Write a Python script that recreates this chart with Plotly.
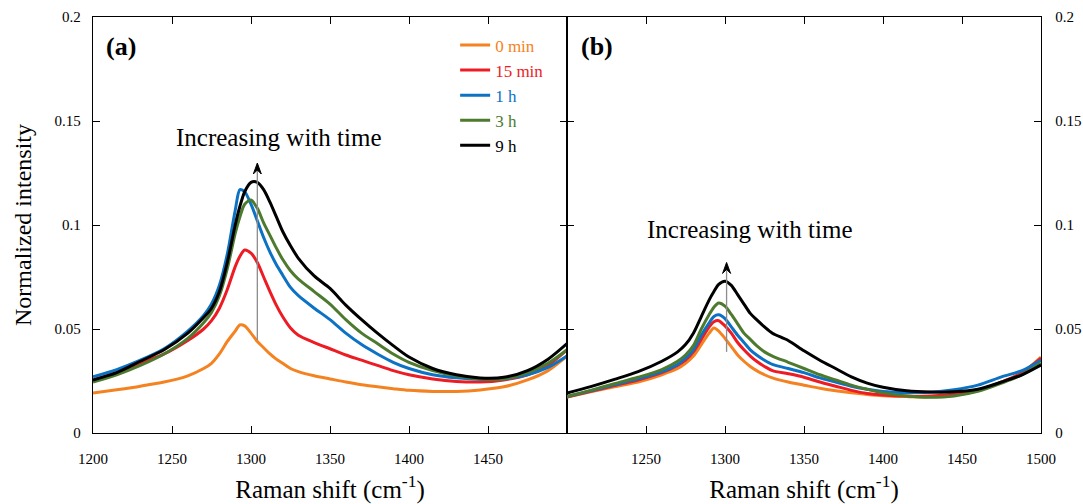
import plotly.graph_objects as go

# ---------------- data ----------------
wavenumber = [1200, 1215, 1230, 1245, 1260, 1270, 1275, 1280, 1285, 1290, 1293, 1296, 1300, 1304,
              1308, 1312, 1316, 1320, 1325, 1330, 1340, 1350, 1360, 1370, 1380, 1390, 1400, 1415,
              1430, 1445, 1460, 1475, 1488, 1500]

series_names = ["0 min", "15 min", "1 h", "3 h", "9 h"]
series_colors = ["#F58220", "#ED1C24", "#0B72C4", "#4D7A2F", "#000000"]

# panel (a)
a_0min = [0.0192, 0.0208, 0.0225, 0.0245, 0.0275, 0.0310, 0.0335, 0.0380, 0.0440, 0.0490, 0.0520, 0.0515,
          0.0480, 0.0440, 0.0410, 0.0380, 0.0355, 0.0335, 0.0310, 0.0295, 0.0275, 0.0260, 0.0245, 0.0232,
          0.0222, 0.0213, 0.0205, 0.0200, 0.0200, 0.0207, 0.0222, 0.0255, 0.0300, 0.0370]
a_15min = [0.0255, 0.0290, 0.0335, 0.0380, 0.0445, 0.0500, 0.0540, 0.0600, 0.0690, 0.0800, 0.0850, 0.0880,
           0.0865, 0.0820, 0.0750, 0.0680, 0.0615, 0.0560, 0.0505, 0.0470, 0.0435, 0.0405, 0.0375, 0.0350,
           0.0325, 0.0300, 0.0280, 0.0260, 0.0248, 0.0245, 0.0255, 0.0280, 0.0325, 0.0400]
a_1h = [0.0270, 0.0305, 0.0350, 0.0405, 0.0490, 0.0565, 0.0620, 0.0710, 0.0860, 0.1070, 0.1170, 0.1160,
        0.1100, 0.1020, 0.0940, 0.0870, 0.0810, 0.0760, 0.0700, 0.0660, 0.0600, 0.0545, 0.0480, 0.0425,
        0.0380, 0.0340, 0.0310, 0.0280, 0.0265, 0.0258, 0.0260, 0.0280, 0.0315, 0.0370]
a_3h = [0.0245, 0.0280, 0.0325, 0.0380, 0.0455, 0.0530, 0.0580, 0.0660, 0.0790, 0.0960, 0.1040, 0.1100,
        0.1120, 0.1080, 0.1010, 0.0950, 0.0890, 0.0835, 0.0780, 0.0740, 0.0680, 0.0620, 0.0545, 0.0480,
        0.0430, 0.0380, 0.0340, 0.0300, 0.0275, 0.0260, 0.0260, 0.0290, 0.0335, 0.0400]
a_9h = [0.0255, 0.0290, 0.0345, 0.0400, 0.0480, 0.0555, 0.0600, 0.0680, 0.0820, 0.1000, 0.1090, 0.1160,
        0.1205, 0.1205, 0.1170, 0.1110, 0.1040, 0.0970, 0.0900, 0.0840, 0.0755, 0.0695, 0.0615, 0.0545,
        0.0480, 0.0420, 0.0365, 0.0310, 0.0280, 0.0265, 0.0268, 0.0300, 0.0355, 0.0430]

# panel (b)
b_0min = [0.0173, 0.0198, 0.0222, 0.0245, 0.0280, 0.0310, 0.0335, 0.0370, 0.0425, 0.0480, 0.0505, 0.0490,
          0.0455, 0.0415, 0.0375, 0.0345, 0.0320, 0.0300, 0.0280, 0.0265, 0.0245, 0.0230, 0.0215, 0.0203,
          0.0193, 0.0185, 0.0179, 0.0175, 0.0174, 0.0183, 0.0203, 0.0245, 0.0290, 0.0365]
b_15min = [0.0173, 0.0200, 0.0228, 0.0255, 0.0290, 0.0325, 0.0350, 0.0390, 0.0450, 0.0510, 0.0535, 0.0540,
           0.0515, 0.0480, 0.0435, 0.0400, 0.0370, 0.0345, 0.0320, 0.0300, 0.0285, 0.0268, 0.0245, 0.0225,
           0.0205, 0.0190, 0.0183, 0.0178, 0.0178, 0.0187, 0.0207, 0.0245, 0.0290, 0.0360]
b_1h = [0.0175, 0.0203, 0.0232, 0.0260, 0.0295, 0.0330, 0.0360, 0.0400, 0.0470, 0.0530, 0.0560, 0.0568,
        0.0550, 0.0510, 0.0470, 0.0435, 0.0400, 0.0375, 0.0350, 0.0330, 0.0310, 0.0290, 0.0265, 0.0245,
        0.0225, 0.0210, 0.0200, 0.0195, 0.0196, 0.0208, 0.0230, 0.0270, 0.0300, 0.0350]
b_3h = [0.0175, 0.0205, 0.0237, 0.0268, 0.0305, 0.0345, 0.0375, 0.0420, 0.0500, 0.0570, 0.0605, 0.0625,
        0.0610, 0.0570, 0.0525, 0.0480, 0.0450, 0.0420, 0.0390, 0.0370, 0.0340, 0.0310, 0.0280, 0.0255,
        0.0230, 0.0210, 0.0193, 0.0178, 0.0172, 0.0178, 0.0200, 0.0240, 0.0280, 0.0337]
b_9h = [0.0192, 0.0223, 0.0258, 0.0295, 0.0345, 0.0390, 0.0425, 0.0480, 0.0560, 0.0640, 0.0680, 0.0715,
        0.0730, 0.0710, 0.0665, 0.0620, 0.0575, 0.0545, 0.0510, 0.0480, 0.0445, 0.0395, 0.0350, 0.0310,
        0.0270, 0.0240, 0.0220, 0.0203, 0.0197, 0.0198, 0.0210, 0.0245, 0.0280, 0.0327]

panel_a = [a_0min, a_15min, a_1h, a_3h, a_9h]
panel_b = [b_0min, b_15min, b_1h, b_3h, b_9h]

y_tickvals = [0, 0.05, 0.1, 0.15, 0.2]
y_ticktext = ["0", "0.05", "0.1", "0.15", "0.2"]
xa_tickvals = [1200, 1250, 1300, 1350, 1400, 1450]
xb_tickvals = [1250, 1300, 1350, 1400, 1450, 1500]

# arrow annotations: (x, y_start, y_tip)
arrow_a = (1304, 0.0447, 0.1298)
arrow_b = (1301, 0.039, 0.082)

FONT = "Liberation Serif, Times New Roman, serif"

fig = go.Figure()

for name, color, ya in zip(series_names, series_colors, panel_a):
    fig.add_trace(go.Scatter(
        x=wavenumber, y=ya, mode="lines", xaxis="x", yaxis="y",
        line=dict(color=color, width=3, shape="spline", smoothing=0.8),
        name=f"<span style='color:{color}'>{name}</span>", showlegend=True))

for name, color, yb in zip(series_names, series_colors, panel_b):
    fig.add_trace(go.Scatter(
        x=wavenumber, y=yb, mode="lines", xaxis="x2", yaxis="y2",
        line=dict(color=color, width=3, shape="spline", smoothing=0.8),
        name=name, showlegend=False))

axis_common = dict(showline=True, linecolor="black", linewidth=1.3, ticks="inside",
                   ticklen=7, tickwidth=1.3, tickcolor="black", mirror="ticks",
                   showgrid=False, zeroline=False, automargin=False,
                   tickfont=dict(family=FONT, size=15, color="black"))

fig.update_layout(
    width=1083, height=504,
    margin=dict(l=93, r=42, t=17, b=71),
    paper_bgcolor="white", plot_bgcolor="white",
    font=dict(family=FONT, color="black"),
    xaxis=dict(domain=[0, 0.5], range=[1200, 1500], tickvals=xa_tickvals,
               anchor="y", ticklabelstandoff=12,
               title=dict(text="Raman shift (cm<sup>-1</sup>)", font=dict(family=FONT, size=25), standoff=14),
               **axis_common),
    yaxis=dict(domain=[0, 1], range=[0, 0.2], tickvals=y_tickvals, ticktext=y_ticktext,
               anchor="x", ticklabelstandoff=8,
               title=dict(text="Normalized intensity", font=dict(family=FONT, size=24), standoff=16),
               **axis_common),
    xaxis2=dict(domain=[0.5, 1], range=[1200, 1500], tickvals=xb_tickvals,
                anchor="y2", ticklabelstandoff=12,
                title=dict(text="Raman shift (cm<sup>-1</sup>)", font=dict(family=FONT, size=25), standoff=14),
                **axis_common),
    yaxis2=dict(domain=[0, 1], range=[0, 0.2], tickvals=y_tickvals, ticktext=y_ticktext,
                anchor="x2", side="right", ticklabelstandoff=10,
                **axis_common),
    legend=dict(x=0.382, y=0.975, xanchor="left", yanchor="top",
                bgcolor="rgba(0,0,0,0)", font=dict(family=FONT, size=17),
                tracegroupgap=0, itemwidth=30),
    showlegend=True,
)

# panel labels
fig.add_annotation(text="<b>(a)</b>", x=0.012, y=0.928, xref="paper", yref="paper",
                   xanchor="left", yanchor="middle", showarrow=False,
                   font=dict(family=FONT, size=26, color="black"))
fig.add_annotation(text="<b>(b)</b>", x=0.513, y=0.928, xref="paper", yref="paper",
                   xanchor="left", yanchor="middle", showarrow=False,
                   font=dict(family=FONT, size=26, color="black"))

# "Increasing with time" texts
fig.add_annotation(text="Increasing with time", x=1318, y=0.1423, xref="x", yref="y",
                   showarrow=False, yanchor="middle",
                   font=dict(family=FONT, size=25, color="black"))
fig.add_annotation(text="Increasing with time", x=1316, y=0.098, xref="x2", yref="y2",
                   showarrow=False, yanchor="middle",
                   font=dict(family=FONT, size=25, color="black"))

# arrows: grey stem + black notched head (head drawn in pixel units at the tip)
for (ax_x, y0, y1), xr, yr in [(arrow_a, "x", "y"), (arrow_b, "x2", "y2")]:
    fig.add_shape(type="line", xref=xr, yref=yr, x0=ax_x, x1=ax_x, y0=y0, y1=y1 - 0.003,
                  line=dict(color="#8c8c8c", width=1.3))
    fig.add_shape(type="path", xref=xr, yref=yr, xsizemode="pixel", ysizemode="pixel",
                  xanchor=ax_x, yanchor=y1,
                  path="M-4,-11 L0,0 L4,-11 L0,-7 Z",
                  fillcolor="black", line=dict(color="black", width=1))

fig.write_html("out.html")
